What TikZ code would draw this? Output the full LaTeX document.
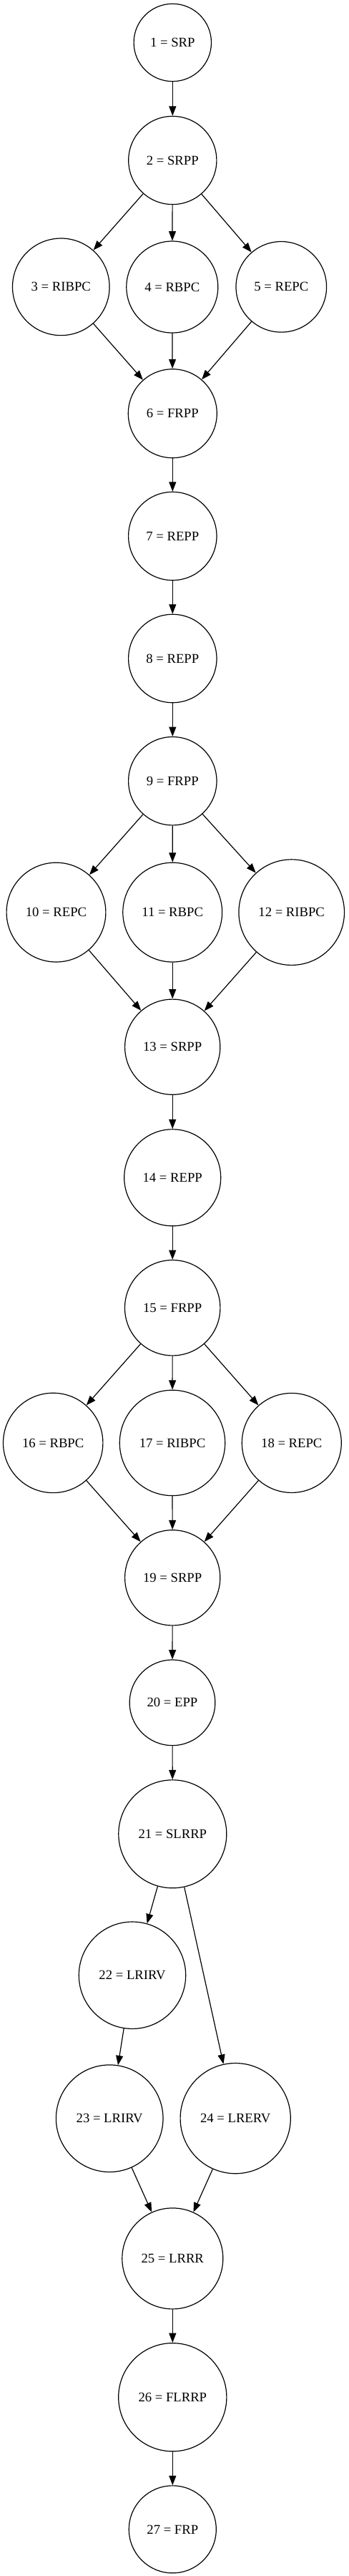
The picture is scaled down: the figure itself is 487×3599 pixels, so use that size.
\documentclass[tikz,border=0pt]{standalone}
\usepackage{fontspec}
\setmainfont{Liberation Serif}
\usetikzlibrary{arrows.meta}
\begin{document}
\begin{tikzpicture}[x=0.75pt,y=-0.75pt,
  nd/.style={circle,draw,line width=0.9pt,inner sep=0pt,minimum size=#1*1.5pt,font=\fontsize{14pt}{16pt}\selectfont},
  edge/.style={line width=0.9pt,-{Triangle[length=10pt,width=7.5pt]}}]
\useasboundingbox (0,0) rectangle (487,3599);
\node[nd=54.2] (n1) at (241.3,59.5) {1 = SRP};
\node[nd=61.6] (n2) at (241.3,224) {2 = SRPP};
\node[nd=67.8] (n3) at (85.3,400.8) {3 = RIBPC};
\node[nd=64] (n4) at (240.8,401) {4 = RBPC};
\node[nd=63.3] (n5) at (393.3,400.8) {5 = REPC};
\node[nd=62] (n6) at (241.3,577.7) {6 = FRPP};
\node[nd=61.7] (n7) at (241.3,749) {7 = REPP};
\node[nd=61.7] (n8) at (241.3,920) {8 = REPP};
\node[nd=61.7] (n9) at (241.3,1091.2) {9 = FRPP};
\node[nd=69.4] (n10) at (78.5,1274.6) {10 = REPC};
\node[nd=69.4] (n11) at (241.2,1274.6) {11 = RBPC};
\node[nd=73.8] (n12) at (407.7,1274.6) {12 = RIBPC};
\node[nd=66.6] (n13) at (241.2,1462.7) {13 = SRPP};
\node[nd=67.5] (n14) at (241.2,1645.3) {14 = REPP};
\node[nd=66.7] (n15) at (241.2,1827.2) {15 = FRPP};
\node[nd=69.7] (n16) at (74.2,2015.9) {16 = RBPC};
\node[nd=73.7] (n17) at (241,2015.9) {17 = RIBPC};
\node[nd=69.5] (n18) at (407.8,2015.9) {18 = REPC};
\node[nd=66.6] (n19) at (241.2,2204.3) {19 = SRPP};
\node[nd=59.8] (n20) at (241,2378.8) {20 = EPP};
\node[nd=75.5] (n21) at (241.3,2562.3) {21 = SLRRP};
\node[nd=74.7] (n22) at (185,2759.7) {22 = LRIRV};
\node[nd=74.8] (n23) at (153.2,2959.7) {23 = LRIRV};
\node[nd=77.1] (n24) at (329.2,2959.6) {24 = LRERV};
\node[nd=70.5] (n25) at (241.3,3155.4) {25 = LRRR};
\node[nd=75.6] (n26) at (241.3,3349.2) {26 = FLRRP};
\node[nd=61] (n27) at (241.3,3533.8) {27 = FRP};
\draw[edge] (n1) -- (n2);
\draw[edge] (n2) -- (n3);
\draw[edge] (n2) -- (n4);
\draw[edge] (n2) -- (n5);
\draw[edge] (n3) -- (n6);
\draw[edge] (n4) -- (n6);
\draw[edge] (n5) -- (n6);
\draw[edge] (n6) -- (n7);
\draw[edge] (n7) -- (n8);
\draw[edge] (n8) -- (n9);
\draw[edge] (n9) -- (n10);
\draw[edge] (n9) -- (n11);
\draw[edge] (n9) -- (n12);
\draw[edge] (n10) -- (n13);
\draw[edge] (n11) -- (n13);
\draw[edge] (n12) -- (n13);
\draw[edge] (n13) -- (n14);
\draw[edge] (n14) -- (n15);
\draw[edge] (n15) -- (n16);
\draw[edge] (n15) -- (n17);
\draw[edge] (n15) -- (n18);
\draw[edge] (n16) -- (n19);
\draw[edge] (n17) -- (n19);
\draw[edge] (n18) -- (n19);
\draw[edge] (n19) -- (n20);
\draw[edge] (n20) -- (n21);
\draw[edge] (n21) -- (n22);
\draw[edge] (n21) -- (n24);
\draw[edge] (n22) -- (n23);
\draw[edge] (n23) -- (n25);
\draw[edge] (n24) -- (n25);
\draw[edge] (n25) -- (n26);
\draw[edge] (n26) -- (n27);
\end{tikzpicture}
\end{document}
